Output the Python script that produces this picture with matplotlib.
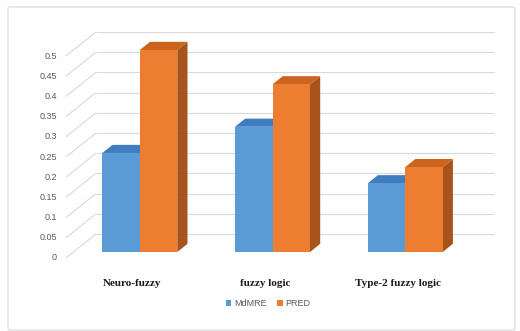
import matplotlib
matplotlib.use("Agg")
import matplotlib.pyplot as plt
from matplotlib.patches import Polygon, Rectangle, Patch, FancyBboxPatch

# ---- data -------------------------------------------------------------
categories = ["Neuro-fuzzy", "fuzzy logic", "Type-2 fuzzy logic"]
series_names = ["MdMRE", "PRED"]
mdmre = [0.245, 0.31, 0.17]
pred = [0.50, 0.415, 0.21]
y_ticks = [0, 0.05, 0.1, 0.15, 0.2, 0.25, 0.3, 0.35, 0.4, 0.45, 0.5]
y_tick_labels = ["0", "0.05", "0.1", "0.15", "0.2", "0.25", "0.3",
                 "0.35", "0.4", "0.45", "0.5"]

# ---- styling ------------------------------------------------------------
front_colors = ["#5B9BD5", "#ED7D31"]
top_colors = ["#3F7DC0", "#CC641F"]
side_colors = ["#3A6C9E", "#A8531B"]
grid_color = "#D9D9D9"
text_gray = "#595959"

W, H = 520, 331
fig = plt.figure(figsize=(W / 100, H / 100), dpi=100)
ax = fig.add_axes([0, 0, 1, 1])

# front-plane scale of the 3-D box (pixels per category / per unit value)
cat_px = 132.7
val_px = 404.0
x0_px = 132.3
y0_px = 258.0
ax.set_xlim((0 - x0_px) / cat_px, (W - x0_px) / cat_px)
ax.set_ylim((y0_px - H) / val_px, y0_px / val_px)
ax.axis("off")

# oblique depth offset of the whole box (front -> back wall), data units
DX = 30 / cat_px
DY = 24 / val_px

x_left = -0.5
x_right = len(categories) - 0.5

# side-wall and back-wall gridlines
for v in y_ticks:
    ax.plot([x_left, x_left + DX], [v, v + DY], color=grid_color, lw=0.8,
            zorder=1, solid_capstyle="butt")
    ax.plot([x_left + DX, x_right + DX], [v + DY, v + DY], color=grid_color,
            lw=0.8, zorder=1, solid_capstyle="butt")

# 3-D columns
bar_w = 37.5 / cat_px
d_front, d_back = 0.25, 0.59
fx, fy = d_front * DX, d_front * DY
bx, by = d_back * DX, d_back * DY

def column(xl, v, k):
    xr = xl + bar_w
    side = Polygon([(xr + fx, fy), (xr + fx, v + fy),
                    (xr + bx, v + by), (xr + bx, by)],
                   closed=True, fc=side_colors[k], ec="none", zorder=3)
    top = Polygon([(xl + fx, v + fy), (xr + fx, v + fy),
                   (xr + bx, v + by), (xl + bx, v + by)],
                  closed=True, fc=top_colors[k], ec="none", zorder=3)
    front = Rectangle((xl + fx, fy), bar_w, v, fc=front_colors[k],
                      ec="none", zorder=3)
    for p in (side, top, front):
        ax.add_patch(p)

for i in range(len(categories)):
    for k, vals in enumerate([mdmre, pred]):
        column(i - bar_w + k * bar_w, vals[i], k)

# value labels on the front-left edge
lab_x = (57 - x0_px) / cat_px
for v, s in zip(y_ticks, y_tick_labels):
    ax.text(lab_x, v, s, ha="right", va="center", fontsize=6.5,
            color=text_gray, family="Liberation Sans")

# category labels
cat_y = (y0_px - 284) / val_px
for i, c in enumerate(categories):
    ax.text(i, cat_y, c, ha="center", va="center", fontsize=8,
            fontweight="bold", family="Liberation Serif", color="#1a1a1a")

# legend
handles = [Patch(fc=front_colors[k], ec="none", label=series_names[k])
           for k in range(2)]
leg = fig.legend(handles=handles, loc="center",
                 bbox_to_anchor=(268 / W, 1 - 304 / H), ncol=2,
                 frameon=False, handlelength=0.6,
                 handleheight=0.6, handletextpad=0.3, columnspacing=1.2,
                 prop={"family": "Liberation Sans", "size": 6.5})
for t in leg.get_texts():
    t.set_color(text_gray)

# chart frame
frame = FancyBboxPatch((8 / W, 1 - 330 / H), 507 / W, 323 / H,
                       boxstyle="round,pad=0,rounding_size=0.004",
                       transform=fig.transFigure, fill=False,
                       ec="#D9D9D9", lw=0.8)
fig.patches.append(frame)

fig.savefig("out.png", dpi=100, facecolor="white")
